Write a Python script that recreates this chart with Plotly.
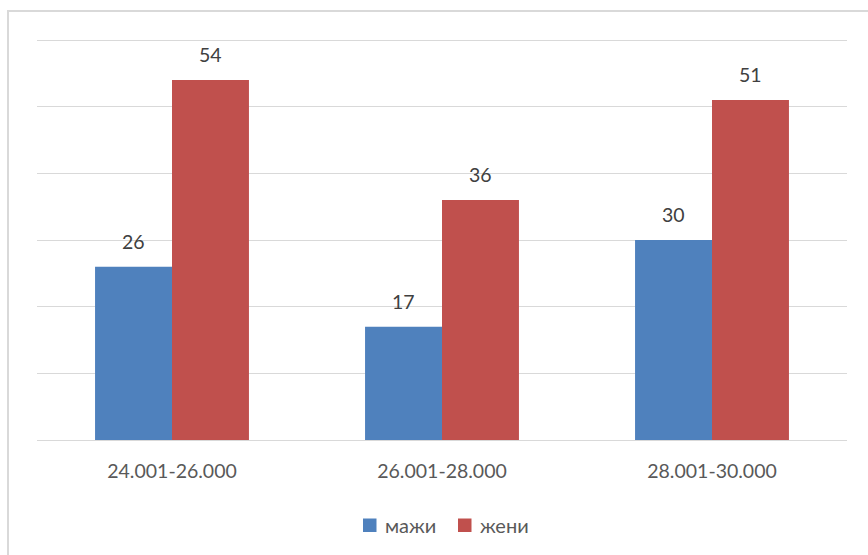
import plotly.graph_objects as go

categories = ["24.001-26.000", "26.001-28.000", "28.001-30.000"]
series_names = ["мажи", "жени"]
men = [26, 17, 30]
women = [54, 36, 51]
colors = ["#4f81bd", "#c0504d"]

W, H = 868, 555
YMAX = 61.5
L, R, T, B = 37, 21, 30, 115
pw, ph = W - L - R, H - T - B
FONT = "Lato"

fig = go.Figure()
for name, vals, col in zip(series_names, [men, women], colors):
    fig.add_trace(go.Bar(
        x=categories, y=vals, name=name,
        marker=dict(color=col, line=dict(width=0)),
        showlegend=False,
    ))

# data labels
for vals, shift in zip([men, women], [-38.5, 38.5]):
    for c, v in zip(categories, vals):
        fig.add_annotation(x=c, y=v, text=str(v), showarrow=False,
                           xshift=shift, yshift=25.5, yanchor="middle",
                           font=dict(family=FONT, size=19.5, color="#404040"))

# custom legend (series names)
leg_y = (440 - 525) / ph
leg_x0 = [363, 458]
for name, col, lx in zip(series_names, colors, leg_x0):
    fig.add_shape(type="rect", xref="paper", yref="paper",
                  x0=(lx - L) / pw, x1=(lx + 13.5 - L) / pw,
                  y0=(440 - 532) / ph, y1=(440 - 518.5) / ph,
                  line=dict(width=0), fillcolor=col)
    fig.add_annotation(xref="paper", yref="paper", x=(lx + 20 - L) / pw, y=leg_y,
                       xanchor="left", yanchor="middle", showarrow=False, text=name,
                       font=dict(family=FONT, size=20, color="#595959"))

fig.update_layout(
    width=W, height=H,
    margin=dict(l=L, r=R, t=T, b=B),
    paper_bgcolor="white", plot_bgcolor="white",
    barmode="group", bargap=0.43, bargroupgap=0,
    font=dict(family=FONT, size=19.5, color="#595959"),
    xaxis=dict(showgrid=False, showline=True, linecolor="#d9d9d9", linewidth=1,
               ticks="outside", ticklen=14, tickcolor="rgba(0,0,0,0)",
               tickfont=dict(family=FONT, size=19.5, color="#595959")),
    yaxis=dict(range=[0, YMAX], tickvals=[10, 20, 30, 40, 50, 60], showgrid=True,
               gridcolor="#d9d9d9", gridwidth=1,
               showticklabels=False, zeroline=False, showline=False, fixedrange=True),
    showlegend=False,
)

# outer chart border (left and top edges visible)
fig.add_shape(type="rect", xref="paper", yref="paper",
              x0=(8 - L) / pw, x1=(W + 5 - L) / pw,
              y0=(440 - (H + 5)) / ph, y1=1 + (T - 11) / ph,
              line=dict(color="#d9d9d9", width=2), fillcolor="rgba(0,0,0,0)", layer="below")

fig.write_html("out.html", config={"displayModeBar": False},
               post_script="document.body.style.margin='0';")
